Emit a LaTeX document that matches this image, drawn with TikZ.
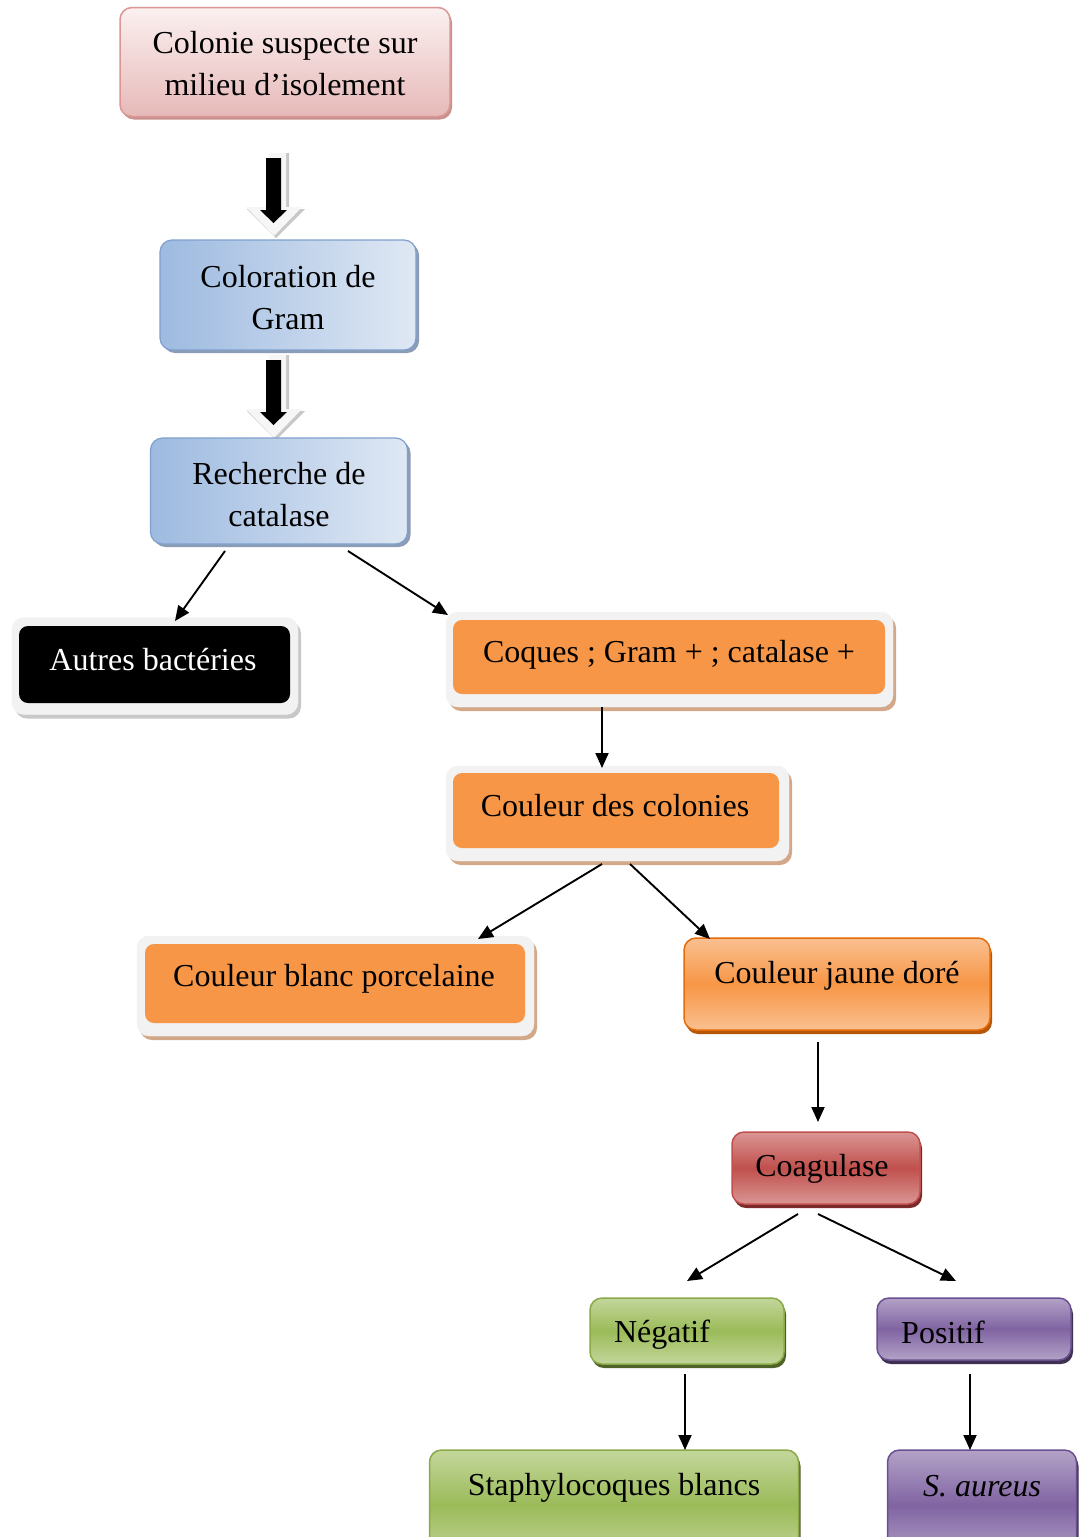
\documentclass[tikz,border=0pt]{standalone}
\usepackage{fontspec}
\setmainfont{Liberation Serif}
\usetikzlibrary{shadows,arrows.meta}
\definecolor{pinkA}{HTML}{FBF0F0}
\definecolor{pinkB}{HTML}{E6B9B8}
\definecolor{pinkD}{HTML}{D99694}
\definecolor{pinkS}{HTML}{C9908E}
\definecolor{blueA}{HTML}{9DBAE0}
\definecolor{blueB}{HTML}{DFE8F4}
\definecolor{blueD}{HTML}{7FA0CC}
\definecolor{blueS}{HTML}{8C9CB4}
\definecolor{orng}{HTML}{F79646}
\definecolor{orngL}{HTML}{FAC090}
\definecolor{orngD}{HTML}{E46C0A}
\definecolor{orngS}{HTML}{B65708}
\definecolor{frameG}{HTML}{F2F2F2}
\definecolor{tanS}{HTML}{D3A888}
\definecolor{redM}{HTML}{C0504D}
\definecolor{redL}{HTML}{DA9694}
\definecolor{redS}{HTML}{7A2B29}
\definecolor{grnM}{HTML}{9BBB59}
\definecolor{grnL}{HTML}{C3D69B}
\definecolor{grnD}{HTML}{8AAA48}
\definecolor{grnS}{HTML}{4F6228}
\definecolor{purM}{HTML}{8064A2}
\definecolor{purL}{HTML}{B3A2C7}
\definecolor{purD}{HTML}{6A5090}
\definecolor{purS}{HTML}{3F3151}
\definecolor{grayS}{HTML}{C8C8C8}
\tikzset{
  txt/.style={font=\fontsize{32}{42}\selectfont, align=center, inner sep=0pt},
  bx/.style={rounded corners=12pt, inner sep=0pt},
  pinkbox/.style={bx, draw=pinkD, line width=1.5pt, top color=pinkA, bottom color=pinkB,
     drop shadow={shadow xshift=2pt, shadow yshift=-3pt, fill=pinkS, opacity=1}},
  bluebox/.style={bx, draw=blueD, line width=1.2pt, shading angle=60, left color=blueA, right color=blueB,
     drop shadow={shadow xshift=3pt, shadow yshift=-3pt, fill=blueS, opacity=1}},
  framebox/.style={bx, fill=frameG, draw=frameG,
     drop shadow={shadow xshift=3pt, shadow yshift=-4pt, fill=#1, opacity=1}},
  innerbox/.style={rounded corners=9pt, inner sep=0pt, fill=#1},
  gradbox/.style n args={4}{bx, draw=#1, line width=1.5pt, top color=#2, bottom color=#2, middle color=#3,
     drop shadow={shadow xshift=2pt, shadow yshift=-4pt, fill=#4, opacity=1}},
  arr/.style={line width=1.9pt, -{Triangle[length=15pt,width=13pt]}},
}
\begin{document}
\begin{tikzpicture}[x=1pt,y=-1pt]
\useasboundingbox (0,0) rectangle (1086,1537);
\fill[white] (0,0) rectangle (1086,1537);

% Colonie
\node[pinkbox, minimum width=330pt, minimum height=109pt] (col) at (285,62) {};
\node[txt] (colt) at (285,64) {Colonie suspecte sur\\milieu d’isolement};

% block arrows
\foreach \dy/\nm in {0/ba1, 202/ba2}{
 \begin{scope}[yshift=-\dy pt]
  \fill[grayS] (271,153) -- (289,153) -- (289,209) -- (305,209) -- (276,238) -- (247,209) -- (271,209) -- cycle;
  \fill[frameG!70!white] (269,153) -- (286,153) -- (286,207) -- (302,207) -- (274,236) -- (246,207) -- (269,207) -- cycle;
  \fill[black] (266,158) -- (281,158) -- (281,210) -- (287,210) -- (273.5,223) -- (260,210) -- (266,210) -- cycle;
  \coordinate (\nm) at (274,195);
 \end{scope}
}

% Gram
\node[bluebox, minimum width=256pt, minimum height=110pt] (gram) at (288,295) {};
\node[txt] (gramt) at (288,298) {Coloration de\\Gram};

% Catalase
\node[bluebox, minimum width=257pt, minimum height=106pt] (cat) at (279,491) {};
\node[txt] (catt) at (279,495) {Recherche de\\catalase};

% Autres bacteries
\node[framebox=grayS, minimum width=286pt, minimum height=97pt] (aut) at (155,666) {};
\node[innerbox=black, minimum width=271pt, minimum height=77pt] (auti) at (154.5,664.5) {};
\node[txt, text=white] (autt) at (153,660) {Autres bactéries};

% Coques
\node[framebox=tanS, minimum width=447pt, minimum height=95pt] (coq) at (669.5,659.5) {};
\node[innerbox=orng, minimum width=432pt, minimum height=74pt] (coqi) at (669,657) {};
\node[txt] (coqt) at (669,655) {Coques ; Gram + ; catalase +};

% Couleur des colonies
\node[framebox=tanS, minimum width=343pt, minimum height=95pt] (cdc) at (617.5,813.5) {};
\node[innerbox=orng, minimum width=326pt, minimum height=75pt] (cdci) at (616,810.5) {};
\node[txt] (cdct) at (615,806) {Couleur des colonies};

% Couleur blanc porcelaine
\node[framebox=tanS, minimum width=397pt, minimum height=100pt] (cbp) at (335.5,986) {};
\node[innerbox=orng, minimum width=380pt, minimum height=79pt] (cbpi) at (335,983.5) {};
\node[txt] (cbpt) at (334,979) {Couleur blanc porcelaine};

% Couleur jaune dore
\node[gradbox={orngD}{orngL}{orng}{orngS}, minimum width=306pt, minimum height=92pt] (cjd) at (837,984) {};
\node[txt] (cjdt) at (837,976) {Couleur jaune doré};

% Coagulase
\node[gradbox={redM}{redL}{redM}{redS}, minimum width=188pt, minimum height=72pt] (coa) at (826,1168) {};
\node[txt] (coat) at (822,1169) {Coagulase};

% Negatif
\node[gradbox={grnD}{grnL}{grnM}{grnS}, minimum width=194pt, minimum height=66pt] (neg) at (687,1331) {};
\node[txt] (negt) at (662,1335) {Négatif};

% Positif
\node[gradbox={purD}{purL}{purM}{purS}, minimum width=194pt, minimum height=62pt] (pos) at (974,1329) {};
\node[txt] (post) at (943,1332) {Positif};

% Staphylocoques blancs
\node[gradbox={grnD}{grnL}{grnM}{grnS}, minimum width=369pt, minimum height=110pt] (stb) at (614,1505) {};
\node[txt] (stbt) at (614,1488) {Staphylocoques blancs};

% S. aureus
\node[gradbox={purD}{purL}{purM}{purS}, minimum width=189pt, minimum height=110pt] (sau) at (982,1505) {};
\node[txt] (saut) at (982,1486) {\textit{S. aureus}};

% connector coordinates
\coordinate (c1s) at (225,551); \coordinate (c1e) at (175,621);
\coordinate (c2s) at (348,551); \coordinate (c2e) at (448,615);
\coordinate (c3s) at (602,707); \coordinate (c3e) at (602,768);
\coordinate (c4s) at (602,864); \coordinate (c4e) at (478,939);
\coordinate (c5s) at (630,864); \coordinate (c5e) at (710,939);
\coordinate (c6s) at (818,1042); \coordinate (c6e) at (818,1122);
\coordinate (c7s) at (798,1214); \coordinate (c7e) at (687,1281);
\coordinate (c8s) at (818,1214); \coordinate (c8e) at (956,1281);
\coordinate (c9s) at (685,1374); \coordinate (c9e) at (685,1450);
\coordinate (c10s) at (970,1374); \coordinate (c10e) at (970,1450);
\foreach \i in {1,...,10}{\draw[arr] (c\i s) -- (c\i e);}
\end{tikzpicture}
\end{document}
